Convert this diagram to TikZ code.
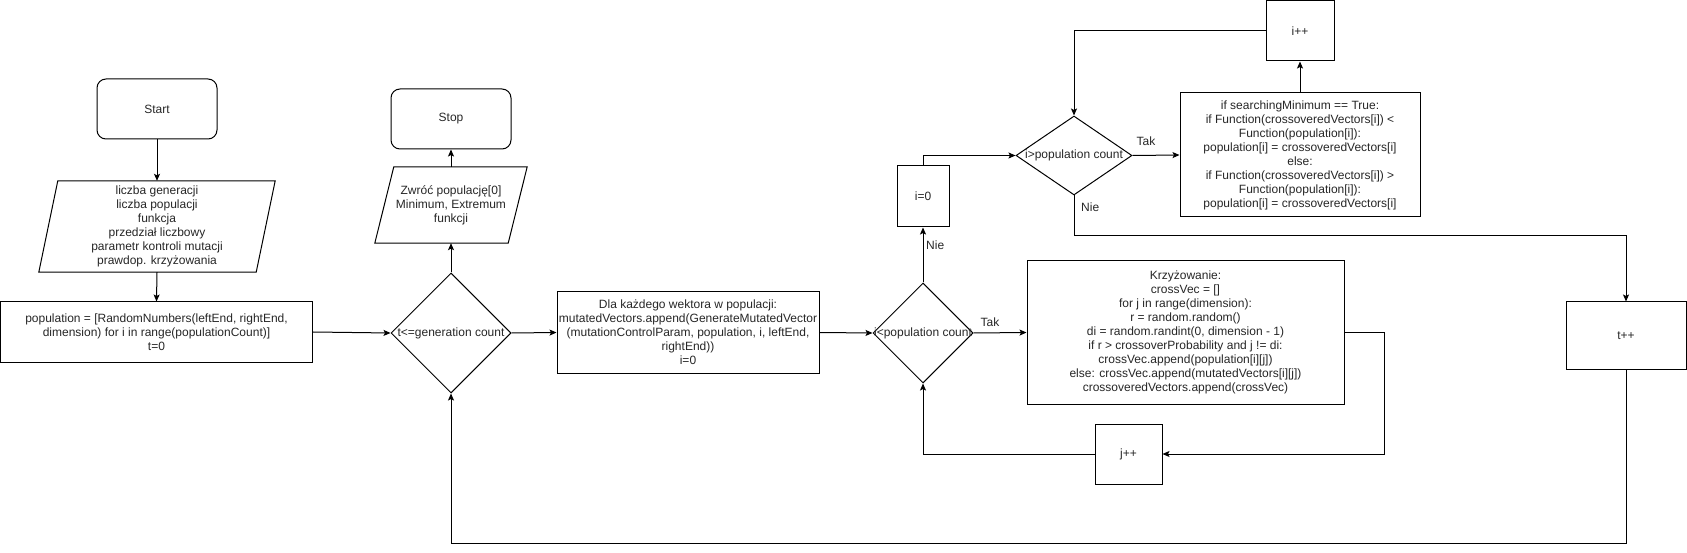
\documentclass[tikz,border=0pt]{standalone}
\usepackage{fontspec}
\setmainfont{Liberation Sans}
\usetikzlibrary{shapes.geometric,arrows.meta}
\begin{document}
\begin{tikzpicture}[x=1pt,y=-1pt,
  base/.style={font=\fontsize{12}{14}\selectfont, text=black!85, align=center, inner sep=0pt},
  box/.style={base, draw, rectangle, line width=1pt},
  rbox/.style={box, rounded corners=9pt},
  ghost/.style={base, rectangle},
  dia/.style={draw, diamond, inner sep=0pt, line width=1pt},
  arr/.style={-{Stealth[length=7pt,width=6pt,inset=1.5pt]}, line width=1pt},
  ln/.style={line width=1pt}]
\useasboundingbox (0,0) rectangle (1687,553);

% nodes
\node[rbox, minimum width=120, minimum height=60] (start) at (157,109) {Start};
\node[ghost, minimum width=236, minimum height=91] (in1) at (157,226.5)
  {liczba generacji\\liczba populacji\\funkcja\\przedział liczbowy\\parametr kontroli mutacji\\prawdop. krzyżowania};
\draw[ln] ([xshift=19pt]in1.north west) -- (in1.north east) -- ([xshift=-19pt]in1.south east) -- (in1.south west) -- cycle;
\node[box, minimum width=312, minimum height=60] (pop) at (156.5,332)
  {population = [RandomNumbers(leftEnd, rightEnd,\\dimension) for i in range(populationCount)]\\t=0};

\node[dia, minimum width=120, minimum height=120] (d1) at (451,333) {};
\node[base] (d1t) at (d1) {t<=generation count};
\node[ghost, minimum width=152, minimum height=76] (in2) at (451,205)
  {Zwróć populację[0]\\Minimum, Extremum\\funkcji};
\draw[ln] ([xshift=19pt]in2.north west) -- (in2.north east) -- ([xshift=-19pt]in2.south east) -- (in2.south west) -- cycle;
\node[rbox, minimum width=120, minimum height=60] (stop) at (451,119) {Stop};

\node[box, minimum width=262, minimum height=81] (dla) at (688,332.5)
  {Dla każdego wektora w populacji:\\mutatedVectors.append(GenerateMutatedVector\\(mutationControlParam, population, i, leftEnd,\\rightEnd))\\i=0};

\node[dia, minimum width=100, minimum height=100] (d2) at (923,333) {};
\node[base] (d2t) at (d2) {i<population count};

\node[box, minimum width=317, minimum height=143] (kr) at (1185.5,332.5)
  {Krzyżowanie:\\crossVec = []\\for j in range(dimension):\\r = random.random()\\di = random.randint(0, dimension - 1)\\if r > crossoverProbability and j != di:\\crossVec.append(population[i][j])\\else: crossVec.append(mutatedVectors[i][j])\\crossoveredVectors.append(crossVec)};
\node[box, minimum width=67, minimum height=60] (jpp) at (1128.5,454) {j++};

\node[box, minimum width=52, minimum height=61] (i0) at (923,196.5) {i=0};
\node[dia, minimum width=116, minimum height=79] (d3) at (1074,155.5) {};
\node[base] (d3t) at (d3) {i>population count};

\node[box, minimum width=240, minimum height=124] (ifb) at (1300,155)
  {if searchingMinimum == True:\\if Function(crossoveredVectors[i]) <\\Function(population[i]):\\population[i] = crossoveredVectors[i]\\else:\\if Function(crossoveredVectors[i]) >\\Function(population[i]):\\population[i] = crossoveredVectors[i]};
\node[box, minimum width=68, minimum height=60] (ipp) at (1300,31) {i++};
\node[box, minimum width=120, minimum height=67] (tpp) at (1626,335.5) {t++};

% connectors
\draw[arr] (start.south) -- (in1.north);
\draw[arr] (in1.south) -- (pop.north);
\draw[arr] (pop.east) -- (d1.west);
\draw[arr] (d1.north) -- (in2.south);
\draw[arr] (in2.north) -- (stop.south);
\draw[arr] (d1.east) -- (dla.west);
\draw[arr] (dla.east) -- (d2.west);
\draw[arr] (d2.east) -- (kr.west);
\node[base] (tak1) at (990,322) {Tak};
\draw[arr] (kr.east) -- ++(40,0) |- (jpp.east);
\draw[arr] (jpp.west) -| (d2.south);
\draw[arr] (d2.north) -- (i0.south);
\node[base, anchor=west] (nie1) at (926,245) {Nie};
\draw[arr] (i0.north) |- (d3.west);
\draw[arr] (d3.east) -- (ifb.west);
\node[base] (tak2) at (1146,141) {Tak};
\draw[arr] (ifb.north) -- (ipp.south);
\draw[arr] (ipp.west) -| (d3.north);
\draw[arr] (d3.south) -- ++(0,40) -| (tpp.north);
\node[base, anchor=west] (nie2) at (1081,207) {Nie};
\draw[arr] (tpp.south) -- ++(0,174) -| (d1.south);
\end{tikzpicture}
\end{document}
